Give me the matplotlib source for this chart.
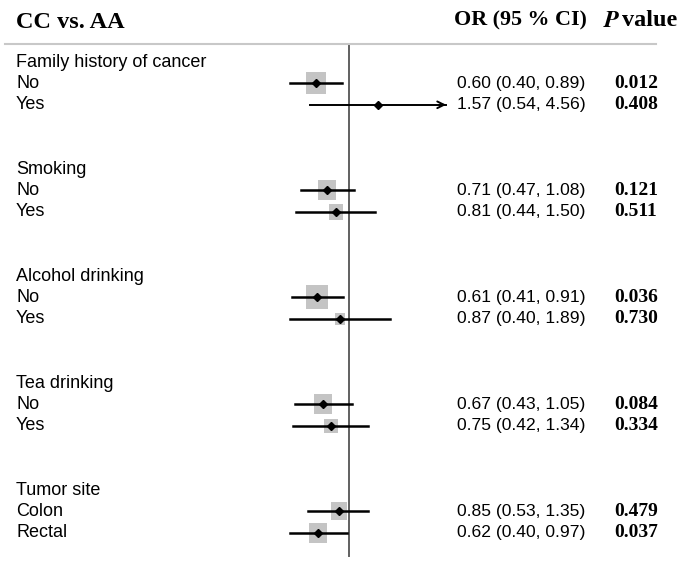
import numpy as np
import matplotlib.pyplot as plt
from matplotlib.transforms import blended_transform_factory

# groups and subgroups, top to bottom
groups = ["Family history of cancer", "Smoking", "Alcohol drinking", "Tea drinking", "Tumor site"]
subgroups = [["No", "Yes"], ["No", "Yes"], ["No", "Yes"], ["No", "Yes"], ["Colon", "Rectal"]]

odds = [0.60, 1.57, 0.71, 0.81, 0.61, 0.87, 0.67, 0.75, 0.85, 0.62]
lower = [0.40, 0.54, 0.47, 0.44, 0.41, 0.40, 0.43, 0.42, 0.53, 0.40]
upper = [0.89, 4.56, 1.08, 1.50, 0.91, 1.89, 1.05, 1.34, 1.35, 0.97]
pvals = ["0.012", "0.408", "0.121", "0.511", "0.036", "0.730", "0.084", "0.334", "0.479", "0.037"]
# relative box size (study weight)
weights = [20, 4, 18, 14, 21, 10, 18, 13, 16, 18]

W, H = 683, 565
fig = plt.figure(figsize=(W / 100, H / 100), dpi=100)

# pixel layout: OR=1 at x=349, ~64 px per ln unit; rows 21.4 px apart, first at y=62
row_h = 21.4
y0 = 62
xmin, xmax = 0.3, 5.0
px_per_ln = 64
left_px = 349 + np.log(xmin) * px_per_ln
right_px = 349 + np.log(xmax) * px_per_ln
ax = fig.add_axes([left_px / W, 0, (right_px - left_px) / W, 1])
ax.set_xscale("log")
ax.set_xlim(xmin, xmax)
ax.set_ylim((H - y0) / row_h, -y0 / row_h)
ax.axis("off")

tr = blended_transform_factory(fig.transFigure, ax.transData)
sans = "Liberation Sans"
serif = "Liberation Serif"

# header
fig.text(16 / W, 1 - 22 / H, "CC vs. AA", family=serif, weight="bold", fontsize=17.5,
         va="center", ha="left")
fig.text(454 / W, 1 - 20 / H, "OR (95 % CI)", family=serif, weight="bold", fontsize=15.8,
         va="center", ha="left")
fig.text(603 / W, 1 - 20 / H, "$\\boldsymbol{P}$", fontsize=17.5, va="center", ha="left",
         math_fontfamily="stix")
fig.text(622 / W, 1 - 20 / H, "value", family=serif, weight="bold", fontsize=17.5,
         va="center", ha="left")
fig.add_artist(plt.Line2D([5 / W, 656 / W], [1 - 44 / H, 1 - 44 / H], color="#c8c8c8", lw=1.5))

# reference line at OR = 1
ax.plot([1, 1], [-18 / row_h, (556 - y0) / row_h], color="#606060", lw=1.4, zorder=1)

# rectangular (slightly tall) box marker
box = [(-0.87, -1), (0.87, -1), (0.87, 1), (-0.87, 1), (-0.87, -1)]

k = 0
for g, (grp, subs) in enumerate(zip(groups, subgroups)):
    r0 = g * 5
    ax.text(16 / W, r0, grp, transform=tr, family=sans, fontsize=13, va="center", ha="left")
    for j, sub in enumerate(subs):
        r = r0 + j + 1
        ax.text(16 / W, r, sub, transform=tr, family=sans, fontsize=13, va="center", ha="left")
        ax.scatter([odds[k]], [r], marker=box, s=(weights[k] * 1.15 / 1.389) ** 2,
                   color="#c4c4c4", zorder=2, linewidths=0)
        if upper[k] > 4:
            ax.plot([lower[k], upper[k]], [r, r], color="black", lw=1.4, zorder=3)
            ax.annotate("", xy=(upper[k], r), xytext=(upper[k] * 0.9, r),
                        arrowprops=dict(arrowstyle="->", color="black", lw=1.4,
                                        shrinkA=0, shrinkB=0, mutation_scale=12), zorder=3)
        else:
            ax.plot([lower[k], upper[k]], [r, r], color="black", lw=1.8, zorder=3)
        ax.plot([odds[k]], [r], marker="D", ms=4, color="black", zorder=4)
        ax.text(457 / W, r, f"{odds[k]:.2f} ({lower[k]:.2f}, {upper[k]:.2f})", transform=tr,
                family=sans, fontsize=12.6, va="center", ha="left")
        ax.text(614 / W, r, pvals[k], transform=tr, family=serif, weight="bold", fontsize=14,
                va="center", ha="left")
        k += 1

fig.savefig("out.png", dpi=100)
